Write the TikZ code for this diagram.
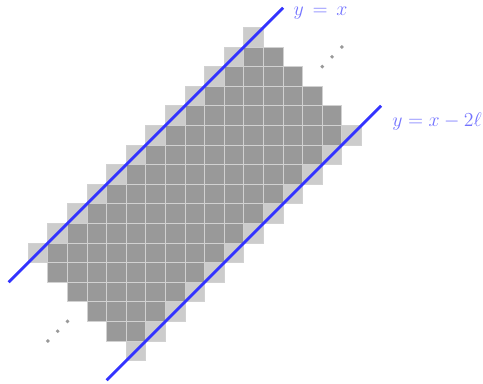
\documentclass[tikz,border=0pt]{standalone}
\usepackage{amsmath}
\usetikzlibrary{positioning}

\begin{document}
\begin{tikzpicture}[x=5mm,y=5mm,
    inner/.style={draw=black!18,line width=0.6pt,fill=black!40},
    edgecell/.style={draw=black!18,line width=0.6pt,fill=black!20},
    diagline/.style={blue!80,line width=2pt},
    eqlabel/.style={text=blue!55,font=\Large,inner sep=0pt,anchor=west},
    dot/.style={fill=black!40,draw=none}
]
    \useasboundingbox (-1.444,-1.189) rectangle (23.2,18.40);

    % band of cells between the two diagonals
    \foreach \row in {0,...,16} {
        \foreach \off in {-5,...,5} {
            \pgfmathtruncatemacro{\col}{\row+\off}
            \pgfmathtruncatemacro{\diag}{2*\row+\off}
            \ifnum\diag>4 \ifnum\diag<28
                \ifnum\off=5 \def\kind{edgecell}\else
                    \ifnum\off=-5 \def\kind{edgecell}\else\def\kind{inner}\fi\fi
                \draw[\kind] (\col,\row) rectangle ++(1,1);
            \fi\fi
        }
    }

    % the two lines
    \coordinate (upper-start) at (-1,4);
    \coordinate (upper-end) at (13,18);
    \coordinate (lower-start) at (4,-1);
    \coordinate (lower-end) at (18,13);
    \draw[diagline] (upper-start) -- (upper-end);
    \draw[diagline] (lower-start) -- (lower-end);

    \node[eqlabel] (label-upper) at (13.52,17.74) {$y \,=\, x$};
    \node[eqlabel] (label-lower) at (18.56,12.19) {$y = x - 2\ell$};

    % dots
    \foreach \p in {0,0.5,1} {
        \fill[dot] (15+\p,15+\p) circle (0.1);
        \fill[dot] (1+\p,1+\p) circle (0.1);
    }

\end{tikzpicture}
\end{document}
